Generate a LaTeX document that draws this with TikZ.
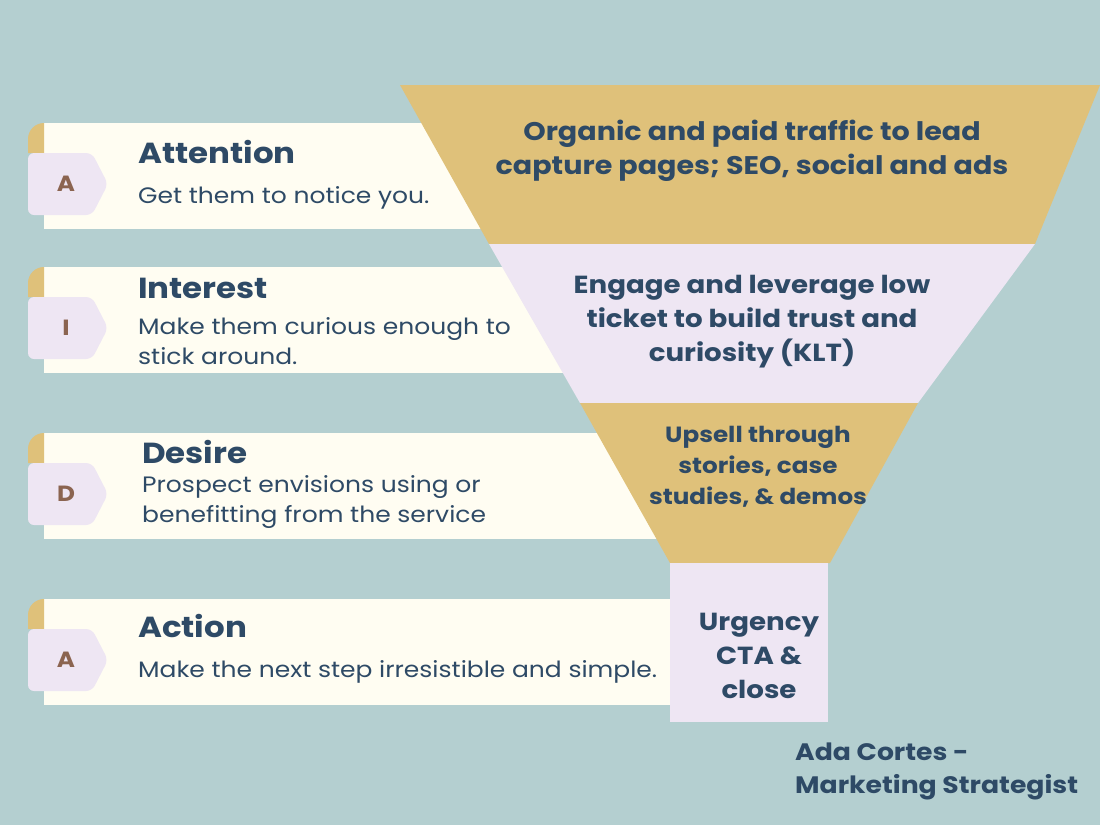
\documentclass[tikz,border=0pt]{standalone}
\usepackage{fontspec}
\setmainfont{Poppins}[FakeStretch=1.12]
\definecolor{bgc}{HTML}{B4CFD0}
\definecolor{goldc}{HTML}{DFC17A}
\definecolor{lavc}{HTML}{EEE6F3}
\definecolor{creamc}{HTML}{FFFDF2}
\definecolor{navyc}{HTML}{2E4A66}
\definecolor{brownc}{HTML}{8B6450}
\tikzstyle{titleNode}=[anchor=west,inner sep=0pt,font=\fontsize{29}{34}\selectfont\bfseries,text=navyc]
\tikzstyle{bodyNode}=[anchor=west,inner sep=0pt,align=left,font=\fontsize{22.3}{30}\selectfont,text=navyc]
\tikzstyle{letterNode}=[inner sep=0pt,font=\fontsize{22}{28}\selectfont\bfseries,text=brownc]
\tikzstyle{funnelText}=[inner sep=0pt,align=center,font=\fontsize{24.7}{34}\selectfont\bfseries,text=navyc]

\begin{document}
\begin{tikzpicture}[x=1pt,y=-1pt]

    \fill[bgc] (0,0) rectangle (1100,825);

    % tabs
    \foreach \ty/\tl in {123/A, 267/I, 433/D, 599/A} {
        \fill[creamc] (44,\ty) rectangle (700,\ty+106);
        \fill[goldc] (28,\ty+30) -- (28,\ty+16) arc[start angle=180,end angle=270,radius=16] -- (44,\ty+30) -- cycle;
        \fill[lavc,rounded corners=6pt] (28,\ty+30) -- (92,\ty+30) -- (108,\ty+61) -- (92,\ty+92) -- (28,\ty+92) -- cycle;
        \node[letterNode] (l\ty) at (66,\ty+61) {\tl};
    }

    \node[titleNode] (t1) at (138,152) {Attention};
    \node[bodyNode] (b1) at (138,198) {Get them to notice you.};
    \node[titleNode] (t2) at (138,288) {Interest};
    \node[bodyNode] (b2) at (138,341) {Make them curious enough to\\stick around.};
    \node[titleNode] (t3) at (142,452) {Desire};
    \node[bodyNode] (b3) at (142,502) {Prospect envisions using or\\benefitting from the service};
    \node[titleNode] (t4) at (138,626) {Action};
    \node[bodyNode] (b4) at (138,672) {Make the next step irresistible and simple.};

    % funnel
    \fill[goldc] (400,85) -- (1100,85) -- (1035,244) -- (489,244) -- cycle;
    \fill[lavc] (489,244) -- (1035,244) -- (918,403) -- (580,403) -- cycle;
    \fill[goldc] (580,403) -- (918,403) -- (830,563) -- (670,563) -- cycle;
    \fill[lavc] (670,563) rectangle (828,722);

    \node[funnelText,font=\fontsize{25.5}{34}\selectfont\bfseries] (f1) at (752,151) {Organic and paid traffic to lead\\capture pages; SEO, social and ads};
    \node[funnelText] (f2) at (752,322) {Engage and leverage low\\ticket to build trust and\\curiosity (KLT)};
    \node[funnelText,font=\fontsize{22}{31}\selectfont\bfseries] (f3) at (758,467) {Upsell through\\stories, case\\studies, \& demos};
    \node[funnelText] (f4) at (759,656) {Urgency\\CTA \&\\close};

    \node[funnelText,align=left,anchor=north west,font=\fontsize{23.8}{33}\selectfont\bfseries] (sig) at (795,743) {Ada Cortes -\\Marketing Strategist};

\end{tikzpicture}
\end{document}
